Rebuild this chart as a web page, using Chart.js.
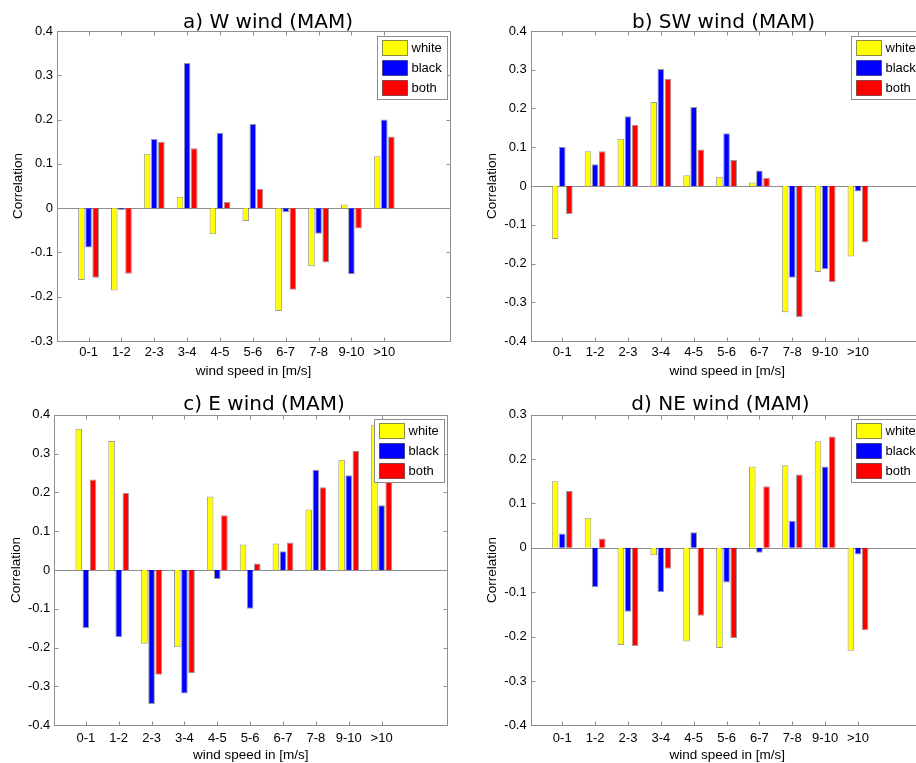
<!DOCTYPE html>
<html>
<head>
<meta charset="utf-8">
<script src="https://cdn.jsdelivr.net/npm/chart.js@4"></script>
<style>
  html, body { margin: 0; padding: 0; background: #fff; }
  body { width: 916px; height: 763px; overflow: hidden; position: relative; }
  canvas { position: absolute; }
</style>
</head>
<body>
<canvas id="chartA" width="460" height="380" style="left:0;top:0"></canvas>
<canvas id="chartB" width="480" height="380" style="left:456px;top:0"></canvas>
<canvas id="chartC" width="460" height="383" style="left:0;top:380px"></canvas>
<canvas id="chartD" width="480" height="383" style="left:456px;top:380px"></canvas>
<script>
// ── Données ──
const speedBins   = ['0-1', '1-2', '2-3', '3-4', '4-5', '5-6', '6-7', '7-8', '9-10', '>10'];
const seriesNames = ['white', 'black', 'both'];
const seriesColors = ['#ffff00', '#0000ff', '#ff0000'];

const wWhite = [-0.162, -0.186, 0.123, 0.026, -0.059, -0.029, -0.232, -0.131, 0.008, 0.117];
const wBlack = [-0.089, -0.004, 0.156, 0.328, 0.170, 0.190, -0.009, -0.058, -0.149, 0.200];
const wBoth  = [-0.157, -0.148, 0.150, 0.135, 0.014, 0.044, -0.184, -0.123, -0.046, 0.162];

const swWhite = [-0.137, 0.090, 0.122, 0.217, 0.028, 0.024, 0.009, -0.326, -0.222, -0.182];
const swBlack = [0.101, 0.056, 0.180, 0.302, 0.204, 0.136, 0.040, -0.237, -0.215, -0.014];
const swBoth  = [-0.072, 0.090, 0.158, 0.277, 0.094, 0.067, 0.021, -0.338, -0.248, -0.146];

const eWhite = [0.364, 0.332, -0.190, -0.199, 0.189, 0.066, 0.068, 0.156, 0.284, 0.374];
const eBlack = [-0.150, -0.173, -0.345, -0.318, -0.023, -0.100, 0.048, 0.258, 0.244, 0.167];
const eBoth  = [0.233, 0.199, -0.270, -0.266, 0.141, 0.017, 0.071, 0.213, 0.307, 0.300];

const neWhite = [0.150, 0.068, -0.219, -0.017, -0.211, -0.226, 0.183, 0.186, 0.240, -0.232];
const neBlack = [0.032, -0.089, -0.144, -0.100, 0.035, -0.078, -0.011, 0.061, 0.183, -0.015];
const neBoth  = [0.128, 0.021, -0.221, -0.047, -0.153, -0.203, 0.139, 0.165, 0.251, -0.186];

const yTicksW  = [-0.3, -0.2, -0.1, 0, 0.1, 0.2, 0.3, 0.4];
const yTicksSW = [-0.4, -0.3, -0.2, -0.1, 0, 0.1, 0.2, 0.3, 0.4];
const yTicksE  = [-0.4, -0.3, -0.2, -0.1, 0, 0.1, 0.2, 0.3, 0.4];
const yTicksNE = [-0.4, -0.3, -0.2, -0.1, 0, 0.1, 0.2, 0.3];

Chart.defaults.font.family = '"Liberation Sans", Arial, sans-serif';
Chart.defaults.color = '#000';

const FRAME = '#8f8f8f';

// ── Axes façon MATLAB : cadre, ticks intérieurs, ligne de base, légende, titre ──
const matlabAxes = {
  id: 'matlabAxes',
  beforeDatasetsDraw(chart) {
    const { ctx, chartArea: a, scales: { y } } = chart;
    const y0 = Math.round(y.getPixelForValue(0)) + 0.5;
    ctx.save();
    ctx.strokeStyle = FRAME;
    ctx.lineWidth = 1;
    ctx.beginPath();
    ctx.moveTo(a.left, y0);
    ctx.lineTo(a.right, y0);
    ctx.stroke();
    ctx.restore();
  },
  afterDraw(chart, args, opts) {
    const { ctx, chartArea: a, scales: { x, y } } = chart;
    const L = Math.round(a.left) + 0.5, R = Math.round(a.right) + 0.5;
    const T = Math.round(a.top) + 0.5,  B = Math.round(a.bottom) + 0.5;
    ctx.save();
    ctx.strokeStyle = FRAME;
    ctx.lineWidth = 1;
    ctx.strokeRect(L, T, R - L, B - T);
    ctx.beginPath();
    x.ticks.forEach(t => {
      const px = Math.round(x.getPixelForValue(t.value)) + 0.5;
      ctx.moveTo(px, T); ctx.lineTo(px, T + 4);
      ctx.moveTo(px, B); ctx.lineTo(px, B - 4);
    });
    y.ticks.forEach(t => {
      const py = Math.round(y.getPixelForValue(t.value)) + 0.5;
      ctx.moveTo(L, py); ctx.lineTo(L + 4, py);
      ctx.moveTo(R, py); ctx.lineTo(R - 4, py);
    });
    ctx.stroke();

    // légende
    const bx = Math.round(a.right - 73) + 0.5, by = Math.round(a.top + 4.5) + 0.5;
    ctx.fillStyle = '#fff';
    ctx.fillRect(bx, by, 70, 63);
    ctx.strokeStyle = FRAME;
    ctx.strokeRect(bx, by, 70, 63);
    ctx.font = '13px "Liberation Sans", Arial, sans-serif';
    ctx.textBaseline = 'middle';
    ctx.textAlign = 'left';
    chart.data.datasets.forEach((ds, i) => {
      const sy = by + 4 + i * 20;
      ctx.fillStyle = ds.backgroundColor;
      ctx.fillRect(bx + 5, sy, 25, 15);
      ctx.strokeStyle = 'rgba(0,0,0,0.45)';
      ctx.strokeRect(bx + 5, sy, 25, 15);
      ctx.fillStyle = '#000';
      ctx.fillText(ds.label, bx + 34, sy + 8);
    });

    // titre
    ctx.font = '20px "DejaVu Sans", sans-serif';
    ctx.textAlign = 'center';
    ctx.textBaseline = 'alphabetic';
    ctx.fillStyle = '#000';
    ctx.fillText(opts.text, opts.x, opts.y);
    ctx.restore();
  },
};

const panels = [
  { id: 'chartA', title: 'a) W wind (MAM)',  data: [wWhite, wBlack, wBoth],    yTicks: yTicksW,
    yAxisW: 57,   padRight: 10,   top: 31,   xAxisH: 39,   yTitlePad: 10.6, tickPad: 4, xTitlePad: 1, titleX: 268,   titleY: 27.5 },
  { id: 'chartB', title: 'b) SW wind (MAM)', data: [swWhite, swBlack, swBoth], yTicks: yTicksSW,
    yAxisW: 74.7, padRight: 12.3, top: 31,   xAxisH: 39,   yTitlePad: 28.2, tickPad: 4, xTitlePad: 1, titleX: 267.5, titleY: 27.5 },
  { id: 'chartC', title: 'c) E wind (MAM)',  data: [eWhite, eBlack, eBoth],    yTicks: yTicksE,
    yAxisW: 54.3, padRight: 12.7, top: 34.7, xAxisH: 37.7, yTitlePad: 8,    tickPad: 5, xTitlePad: 0, titleX: 264,   titleY: 29.5 },
  { id: 'chartD', title: 'd) NE wind (MAM)', data: [neWhite, neBlack, neBoth], yTicks: yTicksNE,
    yAxisW: 74.7, padRight: 12.3, top: 34.7, xAxisH: 37.7, yTitlePad: 28.2, tickPad: 5, xTitlePad: 0, titleX: 264.5, titleY: 29.5 },
];

panels.forEach(p => {
  new Chart(document.getElementById(p.id), {
    type: 'bar',
    data: {
      datasets: seriesNames.map((name, k) => ({
        label: name,
        data: p.data[k].map((v, i) => ({ x: i + 1, y: v })),
        backgroundColor: seriesColors[k],
        borderColor: 'rgba(0,0,0,0.4)',
        borderWidth: 1,
        categoryPercentage: 0.65,
        barPercentage: 0.93,
      })),
    },
    options: {
      responsive: false,
      animation: false,
      layout: { padding: { top: p.top, right: p.padRight, left: 0, bottom: 0 } },
      plugins: {
        legend:  { display: false },
        tooltip: { enabled: false },
        matlabAxes: { text: p.title, x: p.titleX, y: p.titleY },
      },
      scales: {
        x: {
          type: 'linear',
          offset: false,
          min: 0.04,
          max: 12,
          afterBuildTicks: s => { s.ticks = speedBins.map((_, i) => ({ value: i + 1 })); },
          afterFit: s => { s.height = p.xAxisH; },
          grid:   { display: false, drawTicks: false },
          border: { display: false },
          ticks:  { autoSkip: false, maxRotation: 0, padding: p.tickPad, font: { size: 13 },
                    callback: v => speedBins[v - 1] },
          title:  { display: true, text: 'wind speed in [m/s]', font: { size: 13.5 },
                    padding: { top: 0, bottom: p.xTitlePad } },
        },
        y: {
          min: p.yTicks[0],
          max: p.yTicks[p.yTicks.length - 1],
          afterBuildTicks: s => { s.ticks = p.yTicks.map(v => ({ value: v })); },
          afterFit: s => { s.width = p.yAxisW; },
          grid:   { display: false, drawTicks: false },
          border: { display: false },
          ticks:  { padding: 4, font: { size: 13 }, callback: v => String(Math.round(v * 10) / 10) },
          title:  { display: true, text: 'Correlation', font: { size: 13.5 },
                    padding: { top: p.yTitlePad, bottom: 0 } },
        },
      },
    },
    plugins: [matlabAxes],
  });
});
</script>
</body>
</html>
